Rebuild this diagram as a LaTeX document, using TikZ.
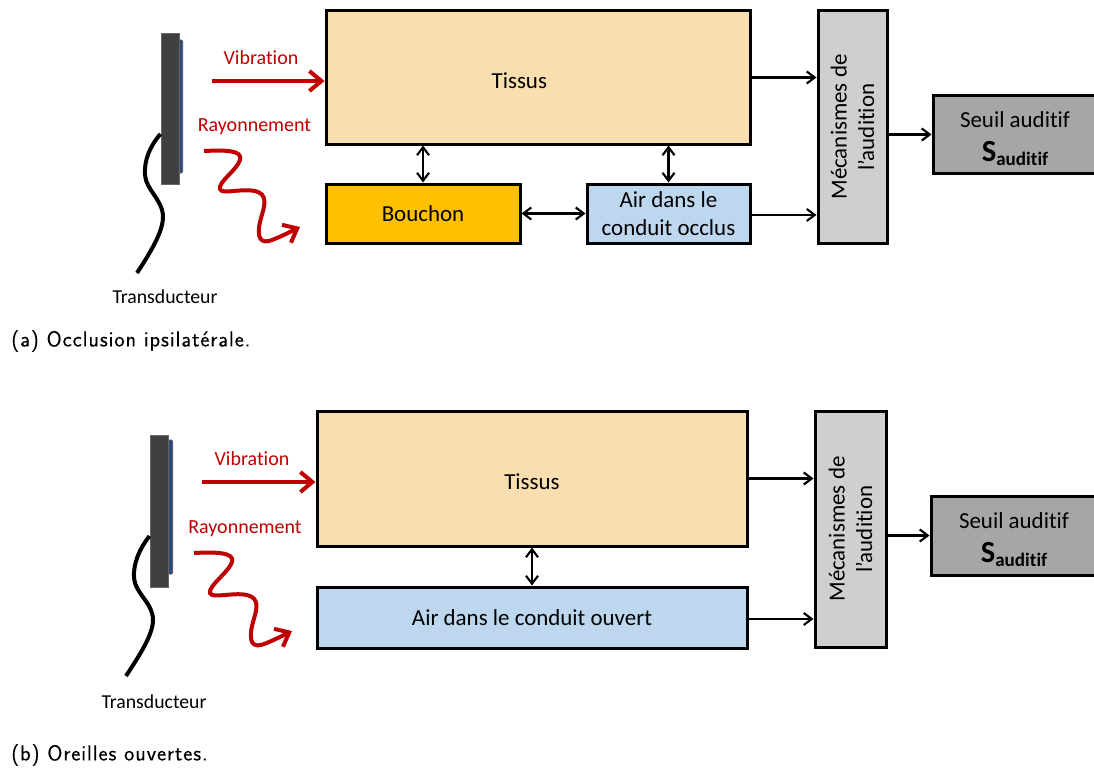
\documentclass[tikz,border=0pt]{standalone}
\usepackage{fontspec}
\setmainfont{Carlito}[Ligatures=NoCommon]
\newfontfamily\capfont{Latin Modern Sans}[LetterSpace=4,FakeBold=0.25]
\usetikzlibrary{arrows.meta}
\definecolor{peau}{HTML}{F9DFB0}
\definecolor{bouchon}{HTML}{FFC000}
\definecolor{airc}{HTML}{BDD7EE}
\definecolor{meca}{HTML}{D0CECE}
\definecolor{seuilc}{HTML}{A6A6A6}
\definecolor{rouge}{HTML}{C00000}
\definecolor{capsule}{HTML}{404040}
\definecolor{plaque}{HTML}{2A4A80}
\newcommand{\seuiltext}{\rule{0pt}{18pt}Seuil auditif\\[5pt]\textbf{\fontsize{23}{23}\selectfont S\raisebox{-3pt}{\fontsize{14.3}{14.3}\selectfont auditif}}}
\tikzset{
  x=0.75pt,y=-0.75pt,
  bloc/.style={draw=black,line width=2.25pt,inner sep=0pt,align=center,font=\fontsize{17.2}{20.5}\selectfont},
  link/.style={draw=black,line width=1.6pt,-{Straight Barb[length=6pt,width=9pt,line width=1.6pt]}},
  dlink/.style={draw=black,line width=1.6pt,{Straight Barb[length=6pt,width=9pt,line width=1.6pt]}-{Straight Barb[length=6pt,width=9pt,line width=1.6pt]}},
  redarrow/.style={draw=rouge,line width=3pt,-{Straight Barb[length=9pt,width=15pt,line width=3pt]}},
  redlabel/.style={text=rouge,font=\fontsize{15}{18}\selectfont,inner sep=0pt},
  cable/.style={draw=black,line width=3pt},
  trlabel/.style={font=\fontsize{14.8}{17}\selectfont,inner sep=0pt},
  caption/.style={font=\capfont\fontsize{16.4}{20}\selectfont,inner sep=0pt,anchor=west},
}
\begin{document}
\begin{tikzpicture}
\useasboundingbox (0,0) rectangle (1094,767);
\clip (0,0) rectangle (1094,767);
% ---- (a)
\node[bloc,fill=peau,minimum width=318pt,minimum height=99.75pt] (tissusA) at (538,77.5) {\hspace*{-28pt}\raisebox{-8pt}[5pt][5pt]{Tissus}};
\node[bloc,fill=bouchon,minimum width=145.5pt,minimum height=44.25pt] (bouchonA) at (423,213.5) {Bouchon};
\node[bloc,fill=airc,minimum width=122.25pt,minimum height=44.25pt] (airA) at (668.5,213.5) {Air dans le\\conduit occlus};
\node[bloc,fill=meca,minimum width=174pt,minimum height=51.75pt,rotate=90] (mecaA) at (852.5,127) {Mécanismes de\\l’audition};
\node[bloc,fill=seuilc,minimum width=123pt,minimum height=58.5pt] (seuilA) at (1015,134.5) {\seuiltext};
\draw[link] (tissusA.east) -- (mecaA.north |- tissusA.east);
\draw[link] ([yshift=-1.1pt]airA.east) -- ([yshift=-1.1pt]mecaA.north |- airA.east);
\draw[link] (mecaA.south |- seuilA.west) -- (seuilA.west);
\draw[dlink] (tissusA.south -| bouchonA.north) -- (bouchonA.north);
\draw[dlink] (tissusA.south -| airA.north) -- (airA.north);
\draw[dlink] (bouchonA.east) -- (airA.west);
\node[draw=black!70,fill=plaque,rounded corners=1pt,line width=.5pt,minimum width=4pt,minimum height=99.75pt,inner sep=0pt] (plaqueA) at (180,106.5) {};
\node[draw=black!60,fill=capsule,line width=.75pt,minimum width=13.5pt,minimum height=112.5pt,inner sep=0pt] (capsA) at (170,109) {};
\coordinate (cableA) at (137,273);
\draw[cable] (capsA.west |- 0,134) .. controls (150,146) and (144,160) .. (145,175) .. controls (146,190) and (163,200) .. (163,217) .. controls (163,232) and (150,253) .. (cableA);
\coordinate (vibA) at (212,81);
\draw[redarrow] (vibA) -- (tissusA.west |- vibA);
\coordinate (rayA) at (204,151);
\coordinate (rayAend) at (300,227);
\draw[redarrow] (rayA) .. controls (225,150) and (243,150) .. (240,160) .. controls (237,170) and (218,182) .. (220,189) .. controls (222,195) and (240,188) .. (255,191) .. controls (268,194) and (265,205) .. (261,218) .. controls (255,240) and (262,244) .. (272,240) .. controls (280,237) and (290,232) .. (rayAend);
\node[redlabel] (vibTA) at (261,58) {Vibration};
\node[redlabel] (rayTA) at (254.5,127) {Rayonnement};
\node[trlabel] (trA) at (165,297) {Transducteur};
\node[caption] (capA) at (11,341) {(a) Occlusion ipsilatérale.};
% ---- (b)
\node[bloc,fill=peau,minimum width=322.5pt,minimum height=101.25pt] (tissusB) at (532,478.5) {\raisebox{-8pt}[5pt][5pt]{Tissus}};
\node[bloc,fill=airc,minimum width=322.5pt,minimum height=45.75pt] (airB) at (532,617.5) {Air dans le conduit ouvert};
\node[bloc,fill=meca,minimum width=177pt,minimum height=53.25pt,rotate=90] (mecaB) at (850.5,529) {Mécanismes de\\l’audition};
\node[bloc,fill=seuilc,minimum width=124.5pt,minimum height=59.25pt] (seuilB) at (1014,535.5) {\seuiltext};
\draw[link] (tissusB.east) -- (mecaB.north |- tissusB.east);
\draw[link] ([yshift=-1.1pt]airB.east) -- ([yshift=-1.1pt]mecaB.north |- airB.east);
\draw[link] (mecaB.south |- seuilB.west) -- (seuilB.west);
\draw[dlink] (tissusB.south) -- (airB.north);
\node[draw=black!70,fill=plaque,rounded corners=1pt,line width=.5pt,minimum width=4pt,minimum height=100.5pt,inner sep=0pt] (plaqueB) at (170,507) {};
\node[draw=black!60,fill=capsule,line width=.75pt,minimum width=13.5pt,minimum height=114pt,inner sep=0pt] (capsB) at (159,511) {};
\coordinate (cableB) at (126,676);
\draw[cable] (capsB.west |- 0,536) .. controls (140,548) and (133,563) .. (134,578) .. controls (135,593) and (153,603) .. (153,620) .. controls (153,635) and (139,656) .. (cableB);
\coordinate (vibB) at (202,482);
\draw[redarrow] (vibB) -- (tissusB.west |- vibB);
\coordinate (rayB) at (194,553);
\coordinate (rayBend) at (292,631);
\draw[redarrow] (rayB) .. controls (215,552) and (235,552) .. (232,562) .. controls (229,572) and (208,586) .. (210,593) .. controls (212,599) and (232,592) .. (247,595) .. controls (260,598) and (257,609) .. (253,622) .. controls (247,644) and (254,648) .. (264,644) .. controls (272,641) and (282,636) .. (rayBend);
\node[redlabel] (vibTB) at (252,459) {Vibration};
\node[redlabel] (rayTB) at (245,529) {Rayonnement};
\node[trlabel] (trB) at (154,702) {Transducteur};
\node[caption] (capB) at (11,755) {(b) Oreilles ouvertes.};
\end{tikzpicture}
\end{document}
